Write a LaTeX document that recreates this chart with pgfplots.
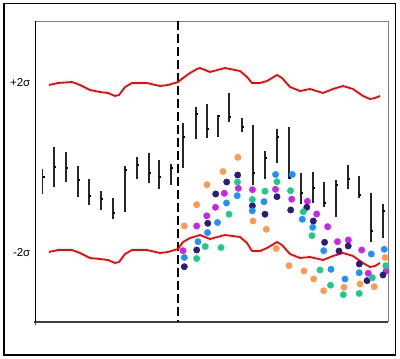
\documentclass[border=0pt]{standalone}
\usepackage{fontspec}
\setmainfont{Liberation Sans}
\usepackage{pgfplots}
\usepackage{pgfplotstable}
\pgfplotsset{compat=1.18}
\definecolor{cOr}{HTML}{FF9A4D}
\definecolor{cMa}{HTML}{CC22EE}
\definecolor{cNa}{HTML}{2E1A78}
\definecolor{cBl}{HTML}{1E90FF}
\definecolor{cGr}{HTML}{19CC88}
\definecolor{frameGray}{HTML}{808080}

% upper and lower 2-sigma limits (pixel units, y downwards)
\pgfplotstableread{
x up lo
49 85 252
58 83 250
72 82 250
80 85 253
90 90 258
100 92 259
108 93 260
115 96 263
119 95 262
125 87 254
132 83 250
147 83 250
160 86 253
168 85 252
178 82 249
183 78 242
190 73 238
197 69 236
200 68 235
210 72 239
225 68 235
240 71 237
247 77 243
252 83 251
260 83 251
267 81 248
277 75 242
282 78 245
290 87 254
300 91 258
310 89 257
323 93 260
333 89 256
343 86 253
353 89 256
363 96 263
370 99 267
375 98 266
380 96 263
}\limits

\begin{document}
\begin{tikzpicture}
\begin{axis}[
  scale only axis,
  width=352bp, height=301bp,
  xmin=36, xmax=388, ymin=21, ymax=322,
  y dir=reverse,
  axis line style={draw=none},
  ticks=none,
  clip=false,
]
% invisible bounding box
\path (axis cs:0,0) rectangle (axis cs:400,359);
% outer frame
\draw[black, line width=1.4bp] (axis cs:4,3.5) rectangle (axis cs:395.5,355);
% inner frame
\draw[frameGray, line width=1bp] (axis cs:36,21) -- (axis cs:388,21) -- (axis cs:388,322);
\draw[black!75, line width=1.6bp] (axis cs:34,322) -- (axis cs:388,322);
\draw[black!75, line width=1bp] (axis cs:36,322) -- (axis cs:36,325);
\draw[black, line width=1bp] (axis cs:36,21) -- (axis cs:36,322);

% dashed separator
\addplot[black, line width=1.1bp, dash pattern=on 9bp off 4bp] coordinates {(178,21) (178,322)};

% sigma limits
\addplot[red, line width=1.8bp, line join=round] table[x=x, y=up] {\limits};
\addplot[red, line width=1.8bp, line join=round] table[x=x, y=lo] {\limits};

% intervals
\addplot[black!85, line width=1.1bp, unbounded coords=jump] coordinates {
(42.7,169) (42.7,194) (42.7,nan)
(54,147) (54,187) (54,nan)
(66,152) (66,182) (66,nan)
(78,166) (78,197) (78,nan)
(89,179) (89,205) (89,nan)
(101,191) (101,210) (101,nan)
(113,198) (113,219) (113,nan)
(125,166) (125,212) (125,nan)
(137,157) (137,179) (137,nan)
(149,153) (149,183) (149,nan)
(159,160) (159,189) (159,nan)
(171,164) (171,185) (171,nan)
(183,123) (183,168) (183,nan)
(196,107) (196,139) (196,nan)
(207,104) (207,138) (207,nan)
(218,115) (218,137) (218,nan)
(229,93) (229,122) (229,nan)
(242,118) (242,132) (242,nan)
(253,125) (253,185) (253,nan)
(265,151) (265,179) (265,nan)
(277,129) (277,163) (277,nan)
(289,127) (289,179) (289,nan)
(301,173) (301,204) (301,nan)
(313,172) (313,203) (313,nan)
(324,182) (324,207) (324,nan)
(336,180) (336,217) (336,nan)
(348,165) (348,189) (348,nan)
(359,176) (359,198) (359,nan)
(371,193) (371,242) (371,nan)
(383,204) (383,238)
};
% means
\addplot[black, line width=1.4bp, unbounded coords=jump] coordinates {
(42.7,177) (45,177) (45,nan)
(54,167) (56.3,167) (56,nan)
(66,168) (68.3,168) (68,nan)
(78,180) (80.3,180) (80,nan)
(89,196) (91.3,196) (91,nan)
(101,199) (103.3,199) (103,nan)
(113,213) (115.3,213) (115,nan)
(125,170) (127.3,170) (127,nan)
(137,165) (139.3,165) (139,nan)
(149,173) (151.3,173) (151,nan)
(159,177) (161.3,177) (161,nan)
(171,168) (173.3,168) (173,nan)
(183,137) (185.3,137) (185,nan)
(196,114) (198.3,114) (198,nan)
(207,129) (209.3,129) (209,nan)
(218,116) (220.3,116) (220,nan)
(229,117) (231.3,117) (231,nan)
(242,127) (244.3,127) (244,nan)
(253,173) (255.3,173) (255,nan)
(265,158) (267.3,158) (267,nan)
(277,137) (279.3,137) (279,nan)
(289,178) (291.3,178) (291,nan)
(301,193) (303.3,193) (303,nan)
(313,188) (315.3,188) (315,nan)
(324,203) (326.3,203) (326,nan)
(336,185) (338.3,185) (338,nan)
(348,179) (350.3,179) (350,nan)
(359,195) (361.3,195) (361,nan)
(371,231) (373.3,231) (373,nan)
(383,211) (385.3,211)
};

% scenario dots
\addplot[only marks, mark=*, mark size=3.2bp, cOr, mark options={draw=none, fill=cOr}] coordinates {
(184.3,226) (196.7,204.7) (207,184.7) (223,171.5) (237.9,157.3) (253,221) (266.3,229.3) (276.2,248.5) (289,265.7) (304,271) (313.7,279) (323.7,290.7) (344,287.3) (360,284) (374.2,286.7) (385,257.5)
};
\addplot[only marks, mark=*, mark size=3.2bp, cMa, mark options={draw=none, fill=cMa}] coordinates {
(183,250.7) (196.7,226) (206.8,215.8) (215.5,207.3) (224.3,193.3) (238.3,188.3) (252.5,189.7) (275.5,189.3) (291.7,199.2) (307.4,201.3) (316.7,214) (327.7,226.7) (337.5,241.7) (348.3,240) (361.7,250) (368.3,273.3) (386,271)
};
\addplot[only marks, mark=*, mark size=3.2bp, cNa, mark options={draw=none, fill=cNa}] coordinates {
(184.3,266.7) (196.7,250) (207.8,223.3) (215.7,194) (226.7,182) (237.7,175) (252.4,205.8) (265,214.2) (277,196.7) (290.7,210) (306.8,207.3) (313.3,221) (324.6,242.3) (339,251) (348.2,246) (359.3,264) (367,280.7) (383,275)
};
\addplot[only marks, mark=*, mark size=3.2bp, cBl, mark options={draw=none, fill=cBl}] coordinates {
(184.3,257.5) (198,241.7) (207.5,232.6) (217.5,222.5) (226.5,203) (237.2,195.7) (252.3,210.8) (264,201.7) (275.6,174.5) (292.3,174.5) (302.3,219.3) (312.7,227.3) (323.7,250.7) (331,269.3) (345,279) (359.2,272.7) (371.3,254) (384.2,249.3)
};
\addplot[only marks, mark=*, mark size=3.2bp, cGr, mark options={draw=none, fill=cGr}] coordinates {
(196.7,258.5) (205.2,246.5) (221,247.5) (229,214.2) (237.5,182) (252.3,199.5) (265,191.2) (277,181.8) (290.5,190.7) (303.3,211.7) (312,235.7) (320,270) (330.5,285.2) (343.3,294.7) (359.2,293.5) (372.3,277.7) (385.8,265.8)
};

% labels
\node[anchor=east, inner sep=0pt, font=\fontsize{11.5}{13}\selectfont] at (axis cs:30.5,83) {+2σ};
\node[anchor=east, inner sep=0pt, font=\fontsize{11.5}{13}\selectfont] at (axis cs:30.5,253) {-2σ};
\end{axis}
\end{tikzpicture}
\end{document}
